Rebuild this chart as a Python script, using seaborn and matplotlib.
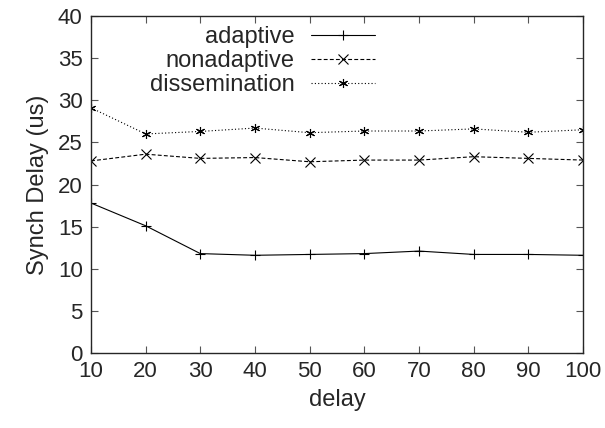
import numpy as np
import pandas as pd
import matplotlib
matplotlib.use("Agg")
import matplotlib.pyplot as plt
import seaborn as sns

# data
delay = [10, 20, 30, 40, 50, 60, 70, 80, 90, 100]
adaptive = [17.8, 15.1, 11.8, 11.6, 11.7, 11.8, 12.1, 11.7, 11.7, 11.6]
nonadaptive = [22.8, 23.6, 23.1, 23.2, 22.7, 22.9, 22.9, 23.3, 23.1, 22.9]
dissemination = [29.1, 26.0, 26.3, 26.7, 26.15, 26.35, 26.35, 26.6, 26.2, 26.5]
names = ["adaptive", "nonadaptive", "dissemination"]

df = pd.DataFrame({
    "delay": delay * 3,
    "value": adaptive + nonadaptive + dissemination,
    "series": [n for n in names for _ in delay],
})

sns.set_style("ticks")
plt.rcParams["font.family"] = ["Liberation Sans", "DejaVu Sans"]
FS = 16
LFS = 17

fig = plt.figure(figsize=(6.05, 4.28), dpi=100)
ax = fig.add_axes([0.1504, 0.1752, 0.8132, 0.7874])

sns.lineplot(data=df, x="delay", y="value", style="series", style_order=names,
             markers={"adaptive": "+", "nonadaptive": "x", "dissemination": (6, 2, 0)},
             dashes={"adaptive": "", "nonadaptive": (3.5, 2), "dissemination": (1, 2)},
             color="black", lw=0.8, markersize=6.5, markeredgewidth=0.8,
             markeredgecolor="black", ax=ax)

ax.set_xlim(10, 100)
ax.set_ylim(0, 40)
ax.set_xticks(delay)
ax.set_yticks(range(0, 41, 5))
ax.tick_params(direction="in", top=True, right=True, length=5, width=0.8,
               labelsize=FS, pad=6, color="#555555")
for s in ax.spines.values():
    s.set_linewidth(1.0)
ax.set_xlabel("delay", fontsize=LFS, labelpad=5)
ax.set_ylabel("Synch Delay (us)", fontsize=LFS, labelpad=6)

handles, labels = ax.get_legend_handles_labels()
leg = ax.legend(handles, labels, loc="upper right", bbox_to_anchor=(0.577, 0.97),
                frameon=False, markerfirst=False, fontsize=LFS, handlelength=2.7,
                labelspacing=0.08, handletextpad=0.7, borderpad=0.0,
                borderaxespad=0.0)
for t in leg.get_texts():
    t.set_ha("right")
leg._legend_box.align = "right"

fig.savefig("out.png", dpi=100)
